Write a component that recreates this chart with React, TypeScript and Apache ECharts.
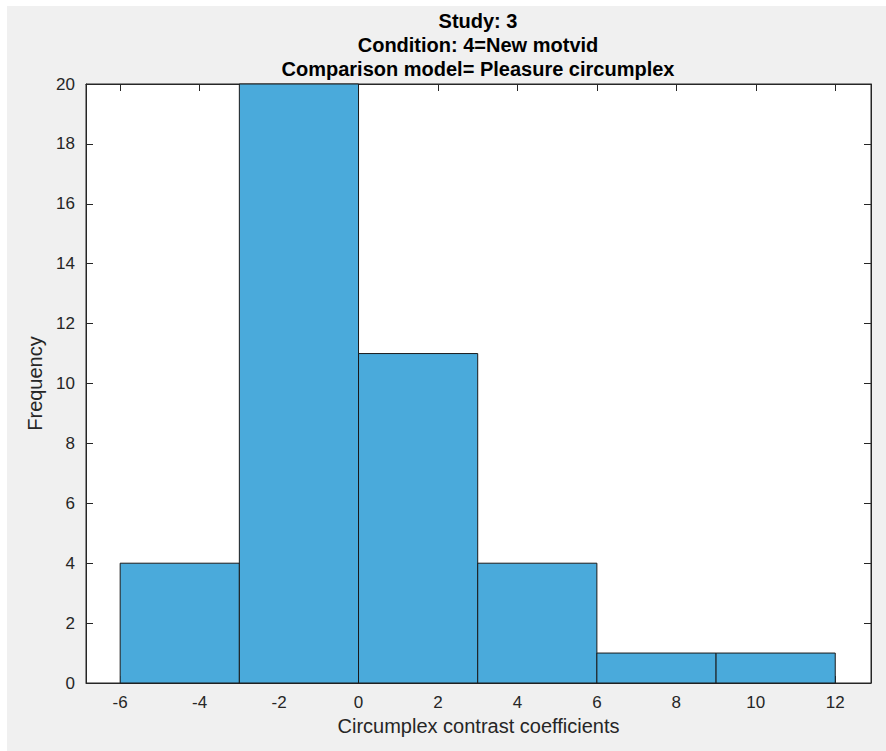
import React, { useEffect, useRef } from "react";
import * as echarts from "echarts";

const binEdges = [-6, -3, 0, 3, 6, 9, 12];
const counts = [4, 20, 11, 4, 1, 1];
const xTicks = [-6, -4, -2, 0, 2, 4, 6, 8, 10, 12];
const titleLines = ["Study: 3", "Condition: 4=New motvid", "Comparison model= Pleasure circumplex"];

const FONT = "Liberation Sans, Arial, Helvetica, sans-serif";

export default function App() {
  const ref = useRef<HTMLDivElement>(null);
  useEffect(() => {
    const chart = echarts.init(ref.current!, null, { renderer: "svg" });
    const data = counts.map((c, i) => [binEdges[i], binEdges[i + 1], c]);
    const axisColor = "#262626";
    const xMin = -6.86;
    const xMax = 12.9;
    const titleY = [11, 35, 59];
    chart.setOption({
      animation: false,
      backgroundColor: "#ffffff",
      graphic: [
        { type: "rect", z: -10, shape: { x: 7, y: 6, width: 886, height: 751 }, style: { fill: "#f0f0f0" } },
      ],
      title: titleLines.map((t, i) => ({
        text: t,
        left: 478,
        top: titleY[i],
        padding: 0,
        textAlign: "center",
        textStyle: { fontFamily: FONT, fontSize: 20, fontWeight: "bold", color: "#000" },
      })),
      grid: {
        left: 86,
        top: 84,
        width: 785,
        height: 599,
        show: true,
        backgroundColor: "#ffffff",
        borderColor: axisColor,
        borderWidth: 1,
      },
      xAxis: [
        {
          type: "value",
          min: xMin,
          max: xMax,
          position: "bottom",
          name: "Circumplex contrast coefficients",
          nameLocation: "middle",
          nameGap: 33,
          nameTextStyle: { fontFamily: FONT, fontSize: 20, color: axisColor },
          axisLine: { show: true, onZero: false, lineStyle: { color: axisColor } },
          axisTick: { show: true, inside: true, length: 7, customValues: xTicks, lineStyle: { color: axisColor } },
          axisLabel: { customValues: xTicks, fontFamily: FONT, fontSize: 17, color: axisColor, margin: 11, showMinLabel: true, showMaxLabel: true },
          splitLine: { show: false },
        },
        {
          type: "value",
          min: xMin,
          max: xMax,
          position: "top",
          axisLine: { show: true, onZero: false, lineStyle: { color: axisColor } },
          axisTick: { show: true, inside: true, length: 7, customValues: xTicks, lineStyle: { color: axisColor } },
          axisLabel: { show: false },
          splitLine: { show: false },
        },
      ],
      yAxis: [
        {
          type: "value",
          min: 0,
          max: 20,
          interval: 2,
          position: "left",
          name: "Frequency",
          nameLocation: "middle",
          nameGap: 36,
          nameTextStyle: { fontFamily: FONT, fontSize: 20, color: axisColor },
          axisLine: { show: true, onZero: false, lineStyle: { color: axisColor } },
          axisTick: { show: true, inside: true, length: 7, lineStyle: { color: axisColor } },
          axisLabel: { fontFamily: FONT, fontSize: 17, color: axisColor, margin: 11 },
          splitLine: { show: false },
        },
        {
          type: "value",
          min: 0,
          max: 20,
          interval: 2,
          position: "right",
          axisLine: { show: true, onZero: false, lineStyle: { color: axisColor } },
          axisTick: { show: true, inside: true, length: 7, lineStyle: { color: axisColor } },
          axisLabel: { show: false },
          splitLine: { show: false },
        },
      ],
      series: [
        {
          type: "custom",
          xAxisIndex: 0,
          yAxisIndex: 0,
          data,
          z: 1,
          renderItem: (params: any, api: any) => {
            const x0 = api.value(0);
            const x1 = api.value(1);
            const y = api.value(2);
            const p0 = api.coord([x0, y]);
            const p1 = api.coord([x1, 0]);
            return {
              type: "rect",
              shape: { x: p0[0], y: p0[1], width: p1[0] - p0[0], height: p1[1] - p0[1] },
              style: { fill: "#4aaadb", stroke: "#1a1a1a", lineWidth: 1 },
            };
          },
        },
      ],
    });
    return () => chart.dispose();
  }, []);
  return (
    <div
      ref={ref}
      style={{ position: "absolute", left: 0, top: 0, width: 886, height: 751 }}
    />
  );
}
